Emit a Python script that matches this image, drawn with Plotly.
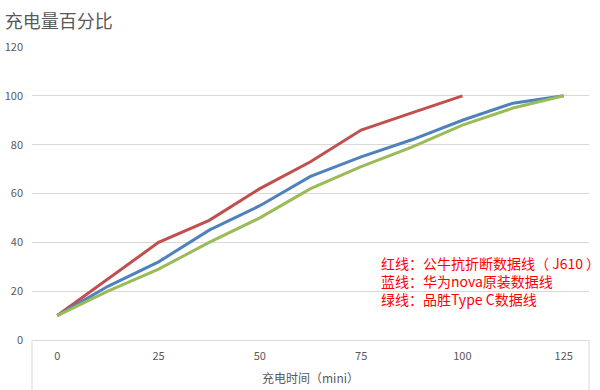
import plotly.graph_objects as go

minutes = [0, 12.5, 25, 37.5, 50, 62.5, 75, 87.5, 100, 112.5, 125]
red_bull = [10, 25, 40, 49, 62, 73, 86, 93, 100, None, None]
blue_huawei = [10, 22, 32, 45, 55, 67, 75, 82, 90, 97, 100]
green_pinsheng = [10, 20, 29, 40, 50, 62, 71, 79, 88, 95, 100]

x_ticks = [0, 25, 50, 75, 100, 125]
y_ticks = [0, 20, 40, 60, 80, 100, 120]

notes = ["红线：公牛抗折断数据线（ J610 ）", "蓝线：华为nova原装数据线", "绿线：品胜Type C数据线"]

FONT = "Noto Sans CJK SC, Microsoft YaHei, sans-serif"
GRAY = "#595959"

fig = go.Figure()
for ys, col in [(red_bull, "#c0504d"), (blue_huawei, "#4f81bd"), (green_pinsheng, "#9bbb59")]:
    fig.add_trace(go.Scatter(x=minutes, y=ys, mode="lines",
                             line=dict(color=col, width=3), connectgaps=False,
                             showlegend=False, hoverinfo="x+y"))

fig.update_layout(
    width=600, height=390,
    margin=dict(l=32, r=11, t=47, b=50),
    paper_bgcolor="white", plot_bgcolor="white",
    font=dict(family=FONT, size=11, color=GRAY),
    title=dict(text="充电量百分比", x=0.008, xanchor="left", y=0.945, yanchor="middle",
               font=dict(family=FONT, size=18, color=GRAY)),
    xaxis=dict(range=[-6.25, 131.25], tickvals=x_ticks, ticktext=[str(v) for v in x_ticks],
               showgrid=False, zeroline=False, showline=True, linecolor="#d9d9d9", linewidth=1,
               ticks="", ticklabelstandoff=6, automargin=False,
               title=dict(text="充电时间（mini）", standoff=12, font=dict(family=FONT, size=12, color=GRAY))),
    yaxis=dict(range=[0, 120], tickvals=y_ticks, showgrid=True, gridcolor="#d9d9d9", gridwidth=1,
               zeroline=False, showline=False, ticks="", ticklabelstandoff=8, automargin=False),
)

for xp in [0, 1]:
    fig.add_shape(type="line", xref="paper", yref="paper", x0=xp, x1=xp, y0=0, y1=-0.2,
                  line=dict(color="#d9d9d9", width=1))

fig.add_annotation(text="<br>".join(notes), xref="paper", yref="paper", x=0.623, y=0.2,
                   xanchor="left", yanchor="middle", align="left", showarrow=False,
                   font=dict(family=FONT, size=14, color="#ff0000"))

fig.write_html("out.html")
